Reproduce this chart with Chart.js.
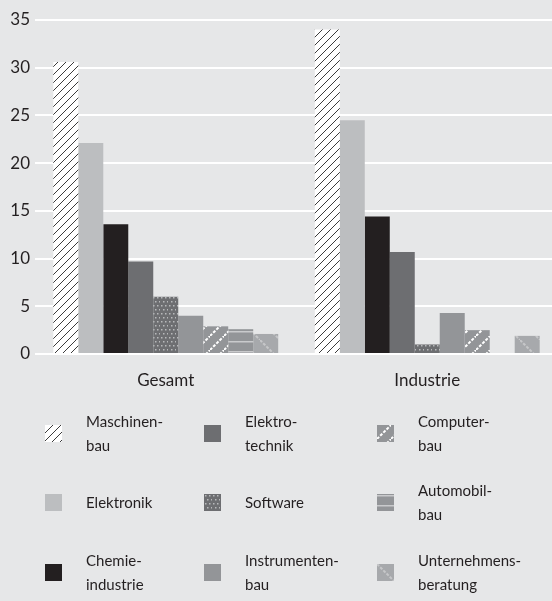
<!DOCTYPE html>
<html><head><meta charset="utf-8">
<script src="https://cdn.jsdelivr.net/npm/chart.js@4"></script>
<style>
html,body{margin:0;padding:0;background:#e6e7e8;width:552px;height:601px;overflow:hidden;}
#wrap{position:absolute;left:0;top:0;width:562px;height:400px;}
#legend{position:absolute;left:0;top:0;width:552px;height:601px;font-family:Lato,sans-serif;font-size:15px;color:#231f20;pointer-events:none;}
.sw{position:absolute;width:17px;height:17px;}
.lt{position:absolute;white-space:pre;line-height:24px;}
</style></head><body>
<div id="wrap"><canvas id="c" width="562" height="400"></canvas></div>
<div id="legend"></div>
<script>
// ---- data ----
const categories = ['Gesamt', 'Industrie'];
const seriesNames = ['Maschinenbau','Elektronik','Chemieindustrie','Elektrotechnik','Software','Instrumentenbau','Computerbau','Automobilbau','Unternehmensberatung'];
const legendLabels = ['Maschinen-\nbau','Elektronik','Chemie-\nindustrie','Elektro-\ntechnik','Software','Instrumenten-\nbau','Computer-\nbau','Automobil-\nbau','Unternehmens-\nberatung'];
const maschinenbau = [30.6, 34.0];
const elektronik = [22.1, 24.5];
const chemieindustrie = [13.6, 14.4];
const elektrotechnik = [9.7, 10.7];
const software = [6.0, 1.0];
const instrumentenbau = [4.0, 4.3];
const computerbau = [2.9, 2.5];
const automobilbau = [2.6, 0];
const unternehmensberatung = [2.1, 1.9];
const yTicks = [0, 5, 10, 15, 20, 25, 30, 35];

const seriesValues = [maschinenbau, elektronik, chemieindustrie, elektrotechnik, software, instrumentenbau, computerbau, automobilbau, unternehmensberatung];
const fills = ['hatch', '#bcbec0', '#231f20', '#6d6e71', 'dots', '#939598', 'computer', 'auto', 'unter'];

function makeTile(kind) {
  const t = document.createElement('canvas');
  let g;
  if (kind === 'hatch') {
    t.width = t.height = 8; g = t.getContext('2d');
    g.fillStyle = '#ffffff'; g.fillRect(0, 0, 8, 8);
    g.strokeStyle = '#3c3c3c'; g.lineWidth = 1;
    g.beginPath(); g.moveTo(-1, 9); g.lineTo(9, -1); g.stroke();
  } else if (kind === 'dots') {
    t.width = t.height = 8; g = t.getContext('2d');
    g.fillStyle = '#6d6e71'; g.fillRect(0, 0, 8, 8);
    g.fillStyle = '#b8b9bb';
    [[1,1],[5,1],[3,5],[7,5]].forEach(p => g.fillRect(p[0], p[1], 1.5, 1.5));
  } else if (kind === 'computer') {
    t.width = t.height = 14; g = t.getContext('2d');
    g.fillStyle = '#939598'; g.fillRect(0, 0, 14, 14);
    g.strokeStyle = '#ffffff'; g.lineWidth = 2; g.setLineDash([3, 1.5]);
    g.beginPath(); g.moveTo(0, 14); g.lineTo(14, 0); g.stroke();
  } else if (kind === 'auto') {
    t.width = t.height = 10; g = t.getContext('2d');
    g.fillStyle = '#939598'; g.fillRect(0, 0, 10, 10);
    g.fillStyle = '#c9cacc'; g.fillRect(0, 1, 10, 1.5);
  } else if (kind === 'unter') {
    t.width = t.height = 20; g = t.getContext('2d');
    g.fillStyle = '#a7a9ac'; g.fillRect(0, 0, 20, 20);
    g.strokeStyle = '#c6c7c9'; g.lineWidth = 2; g.setLineDash([3, 1.5]);
    g.beginPath(); g.moveTo(0, 0); g.lineTo(20, 20); g.stroke();
  }
  return t;
}
function fillFor(ctx, f) {
  if (f.charAt(0) === '#') return f;
  return ctx.createPattern(makeTile(f), 'repeat');
}

const cv = document.getElementById('c');
const ctx = cv.getContext('2d');
const FONT = 'Lato, sans-serif';
const TXT = '#231f20';

const datasets = seriesNames.map((n, i) => ({
  label: n,
  data: seriesValues[i],
  backgroundColor: fillFor(ctx, fills[i]),
  borderWidth: 0,
  categoryPercentage: 0.86,
  barPercentage: 1.0
}));

new Chart(cv, {
  type: 'bar',
  data: { labels: categories, datasets },
  options: {
    responsive: false,
    animation: false,
    layout: { padding: { left: 0, top: 20, right: 4, bottom: 0 } },
    plugins: { legend: { display: false }, tooltip: { enabled: false } },
    scales: {
      x: {
        grid: { display: false, drawTicks: false },
        border: { display: false },
        ticks: { color: TXT, font: { family: FONT, size: 17 }, padding: 16 },
        afterFit: s => { s.height = 46; }
      },
      y: {
        min: 0, max: 35,
        afterBuildTicks: s => { s.ticks = yTicks.map(v => ({ value: v })); },
        grid: { color: '#ffffff', lineWidth: 2, drawTicks: false },
        border: { display: false },
        ticks: { color: TXT, font: { family: FONT, size: 17 }, padding: 5 },
        afterFit: s => { s.width = 35; }
      }
    }
  }
});

// ---- legend (column-major, 3x3) ----
const legend = document.getElementById('legend');
const swX = [45, 204, 377], txX = [86, 245, 418], rowY = [433, 502, 572];
legendLabels.forEach((lab, i) => {
  const col = Math.floor(i / 3), row = i % 3;
  const sw = document.createElement('canvas');
  sw.width = 17; sw.height = 17; sw.className = 'sw';
  sw.style.left = swX[col] + 'px'; sw.style.top = (rowY[row] - 8.5) + 'px';
  const g = sw.getContext('2d');
  g.fillStyle = fillFor(g, fills[i]); g.fillRect(0, 0, 17, 17);
  legend.appendChild(sw);
  const tx = document.createElement('div');
  tx.className = 'lt';
  tx.textContent = lab;
  const lines = lab.split('\n').length;
  tx.style.left = txX[col] + 'px';
  tx.style.top = (rowY[row] - lines * 12) + 'px';
  legend.appendChild(tx);
});
</script>
</body></html>
